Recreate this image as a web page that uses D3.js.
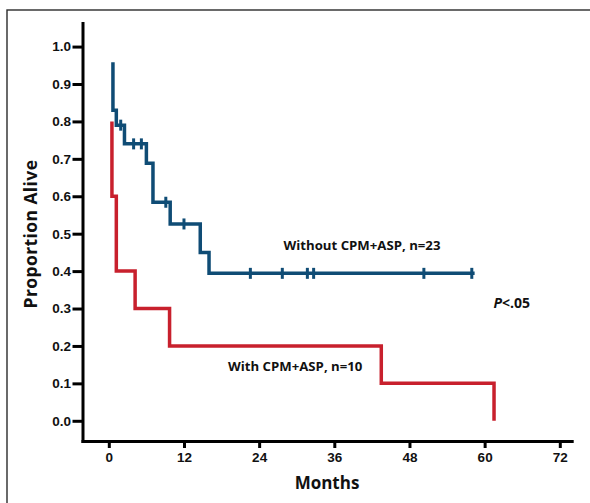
<!DOCTYPE html>
<html>
<head>
<meta charset="utf-8">
<script src="https://cdn.jsdelivr.net/npm/d3@7"></script>
<style>
  body { margin: 0; background: #fff; }
  svg { display: block; font-family: "Open Sans", "DejaVu Sans", sans-serif; }
</style>
</head>
<body>
<svg id="chart" width="590" height="503"></svg>
<script>
// Kaplan-Meier steps (months, proportion alive)
const withoutMonths = [0.66, 0.66, 1.2, 2.5, 6.0, 7.05, 9.8, 14.6, 16.0];
const withoutSurv = [0.958, 0.83, 0.79, 0.74, 0.688, 0.584, 0.526, 0.45, 0.394];
const withoutEnd = 58.4;
const withoutCensored = [1.9, 3.96, 5.2, 9.1, 12.0, 22.6, 27.7, 31.7, 32.7, 50.3, 57.95];

const withMonths = [0.5, 0.5, 1.2, 4.2, 9.7, 43.5, 61.5];
const withSurv = [0.8, 0.6, 0.4, 0.3, 0.2, 0.1, 0.0];

const xTicks = [0, 12, 24, 36, 48, 60, 72];
const yTicks = [0, 0.1, 0.2, 0.3, 0.4, 0.5, 0.6, 0.7, 0.8, 0.9, 1.0];

const labels = {
  without: "Without CPM+ASP, n=23",
  with: "With CPM+ASP, n=10",
  x: "Months",
  y: "Proportion Alive"
};

const blue = "#0f4c75", red = "#c8202d";

const svg = d3.select("#chart");

// outer frame
svg.append("rect")
    .attr("x", 7).attr("y", 10)
    .attr("width", 600).attr("height", 520)
    .attr("fill", "none")
    .attr("stroke", "#2b2b2b")
    .attr("stroke-width", 1.4);

const x = d3.scaleLinear().domain([-4.2, 73.9]).range([82.5, 571.7]);
const y = d3.scaleLinear().domain([-0.054, 1.063]).range([441, 23]);

// axes
const xAxis = svg.append("g")
    .attr("transform", "translate(0," + y.range()[0] + ")")
    .call(d3.axisBottom(x).tickValues(xTicks).tickSize(7).tickSizeOuter(0).tickPadding(4.5));
const yAxis = svg.append("g")
    .attr("transform", "translate(" + x.range()[0] + ",0)")
    .call(d3.axisLeft(y).tickValues(yTicks).tickFormat(d3.format(".1f"))
      .tickSize(10).tickSizeOuter(0).tickPadding(1.5));

[xAxis, yAxis].forEach(function(g) {
  g.select(".domain").attr("stroke", "#000").attr("stroke-width", 3).attr("stroke-linecap", "square");
  g.selectAll(".tick line").attr("stroke", "#000").attr("stroke-width", 3);
  g.selectAll(".tick text")
    .attr("fill", "#111")
    .style("font-size", "13.5px")
    .style("font-weight", "700");
});

svg.append("text")
    .attr("x", 327).attr("y", 488.5)
    .attr("text-anchor", "middle")
    .style("font-size", "17px").style("font-weight", "700")
    .attr("fill", "#111")
    .text(labels.x);

svg.append("text")
    .attr("transform", "translate(37,234) rotate(-90)")
    .attr("text-anchor", "middle")
    .style("font-size", "17.5px").style("font-weight", "700")
    .style("letter-spacing", "0.4px")
    .attr("fill", "#111")
    .text(labels.y);

// survival curves
const line = d3.line()
    .x(d => x(d[0]))
    .y(d => y(d[1]))
    .curve(d3.curveStepAfter);

const withPts = withMonths.map((m, i) => [m, withSurv[i]]);
svg.append("path")
    .attr("d", line(withPts))
    .attr("fill", "none")
    .attr("stroke", red)
    .attr("stroke-width", 3.5);

const withoutPts = withoutMonths.map((m, i) => [m, withoutSurv[i]]);
withoutPts.push([withoutEnd, withoutSurv[withoutSurv.length - 1]]);
svg.append("path")
    .attr("d", line(withoutPts))
    .attr("fill", "none")
    .attr("stroke", blue)
    .attr("stroke-width", 3.5);

function survAt(t) {
  let s = withoutSurv[0];
  withoutMonths.forEach(function(m, i) { if (m <= t) s = withoutSurv[i]; });
  return s;
}

svg.selectAll(".censor")
    .data(withoutCensored)
    .join("line")
    .attr("class", "censor")
    .attr("x1", d => x(d)).attr("x2", d => x(d))
    .attr("y1", d => y(survAt(d)) - 5.5)
    .attr("y2", d => y(survAt(d)) + 5.5)
    .attr("stroke", blue)
    .attr("stroke-width", 3);

// annotations
svg.append("text")
    .attr("x", 283.5).attr("y", 250)
    .style("font-size", "13.2px").style("font-weight", "700")
    .attr("fill", "#111")
    .text(labels.without);

svg.append("text")
    .attr("x", 228).attr("y", 370.5)
    .style("font-size", "13.2px").style("font-weight", "700")
    .attr("fill", "#111")
    .text(labels.with);

const p = svg.append("text")
    .attr("x", 493.5).attr("y", 307.5)
    .style("font-size", "14px").style("font-weight", "700")
    .attr("fill", "#111");
p.append("tspan").style("font-style", "italic").text("P");
p.append("tspan").text("<.05");
</script>
</body>
</html>
